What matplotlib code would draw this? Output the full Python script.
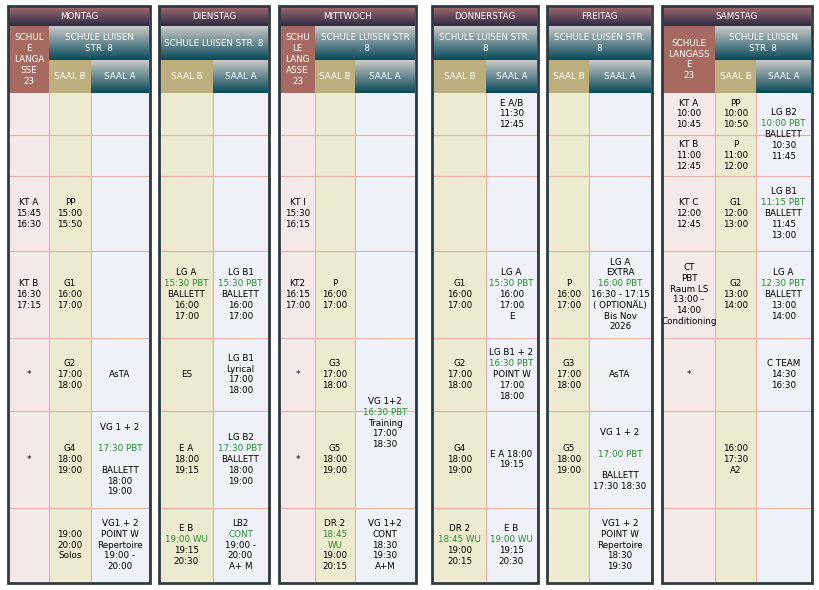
import numpy as np
import matplotlib.pyplot as plt
from matplotlib.patches import Rectangle

# ---- data ----
days = ["MONTAG", "DIENSTAG", "MITTWOCH", "DONNERSTAG", "FREITAG", "SAMSTAG"]
schools = ["SCHULE LUISEN\nSTR. 8", "SCHULE LUISEN STR. 8", "SCHULE LUISEN STR\n. 8",
           "SCHULE LUISEN STR.\n8", "SCHULE LUISEN STR.\n8", "SCHULE LUISEN\nSTR. 8"]
langasse = ["SCHUL\nE\nLANGA\nSSE\n23", None, "SCHU\nLE\nLANG\nASSE\n23", None, None,
            "SCHULE\nLANGASS\nE\n23"]
# column splits per day: x edges of (LS), B, A
col_edges = [[9, 49, 91, 149], [160, 213, 268], [280, 315, 355, 415],
             [433, 486, 537], [548, 589, 651], [663, 715, 756, 811]]
row_edges = [93, 135, 176, 251, 338, 411, 508, 582]

# cells: (day index, column key, first row, last row, text); "~" marks green line
cells = [
    (0, "L", 2, 2, "KT A\n15:45\n16:30"), (0, "B", 2, 2, "PP\n15:00\n15:50"),
    (0, "L", 3, 3, "KT B\n16:30\n17:15"), (0, "B", 3, 3, "G1\n16:00\n17:00"),
    (0, "L", 4, 4, "*"), (0, "B", 4, 4, "G2\n17:00\n18:00"), (0, "A", 4, 4, "AsTA"),
    (0, "L", 5, 5, "*"), (0, "B", 5, 5, "G4\n18:00\n19:00"),
    (0, "A", 5, 5, "VG 1 + 2\n\n~17:30 PBT\n\nBALLETT\n18:00\n19:00"),
    (0, "B", 6, 6, "19:00\n20:00\nSolos"),
    (0, "A", 6, 6, "VG1 + 2\nPOINT W\nRepertoire\n19:00 -\n20:00"),
    (1, "B", 3, 3, "LG A\n~15:30 PBT\nBALLETT\n16:00\n17:00"),
    (1, "A", 3, 3, "LG B1\n~15:30 PBT\nBALLETT\n16:00\n17:00"),
    (1, "B", 4, 4, "ES"), (1, "A", 4, 4, "LG B1\nLyrical\n17:00\n18:00"),
    (1, "B", 5, 5, "E A\n18:00\n19:15"),
    (1, "A", 5, 5, "LG B2\n~17:30 PBT\nBALLETT\n18:00\n19:00"),
    (1, "B", 6, 6, "E B\n~19:00 WU\n19:15\n20:30"),
    (1, "A", 6, 6, "LB2\n~CONT\n19:00 -\n20:00\nA+ M"),
    (2, "L", 2, 2, "KT I\n15:30\n16:15"),
    (2, "L", 3, 3, "KT2\n16:15\n17:00"), (2, "B", 3, 3, "P\n16:00\n17:00"),
    (2, "L", 4, 4, "*"), (2, "B", 4, 4, "G3\n17:00\n18:00"),
    (2, "A", 4, 5, "VG 1+2\n~16:30 PBT\nTraining\n17:00\n18:30"),
    (2, "L", 5, 5, "*"), (2, "B", 5, 5, "G5\n18:00\n19:00"),
    (2, "B", 6, 6, "DR 2\n~18:45\n~WU\n19:00\n20:15"),
    (2, "A", 6, 6, "VG 1+2\nCONT\n18:30\n19:30\nA+M"),
    (3, "A", 0, 0, "E A/B\n11:30\n12:45"),
    (3, "B", 3, 3, "G1\n16:00\n17:00"), (3, "A", 3, 3, "LG A\n~15:30 PBT\n16:00\n17:00\nE"),
    (3, "B", 4, 4, "G2\n17:00\n18:00"),
    (3, "A", 4, 4, "LG B1 + 2\n~16:30 PBT\nPOINT W\n17:00\n18:00"),
    (3, "B", 5, 5, "G4\n18:00\n19:00"), (3, "A", 5, 5, "E A 18:00\n19:15"),
    (3, "B", 6, 6, "DR 2\n~18:45 WU\n19:00\n20:15"),
    (3, "A", 6, 6, "E B\n~19:00 WU\n19:15\n20:30"),
    (4, "B", 3, 3, "P\n16:00\n17:00"),
    (4, "A", 3, 3, "LG A\nEXTRA\n~16:00 PBT\n16:30 - 17:15\n( OPTIONÄL)\nBis Nov\n2026"),
    (4, "B", 4, 4, "G3\n17:00\n18:00"), (4, "A", 4, 4, "AsTA"),
    (4, "B", 5, 5, "G5\n18:00\n19:00"),
    (4, "A", 5, 5, "VG 1 + 2\n\n~17:00 PBT\n\nBALLETT\n17:30 18:30"),
    (4, "A", 6, 6, "VG1 + 2\nPOINT W\nRepertoire\n18:30\n19:30"),
    (5, "L", 0, 0, "KT A\n10:00\n10:45"), (5, "B", 0, 0, "PP\n10:00\n10:50"),
    (5, "A", 0, 1, "LG B2\n~10:00 PBT\nBALLETT\n10:30\n11:45"),
    (5, "L", 1, 1, "KT B\n11:00\n12:45"), (5, "B", 1, 1, "P\n11:00\n12:00"),
    (5, "L", 2, 2, "KT C\n12:00\n12:45"), (5, "B", 2, 2, "G1\n12:00\n13:00"),
    (5, "A", 2, 2, "LG B1\n~11:15 PBT\nBALLETT\n11:45\n13:00"),
    (5, "L", 3, 3, "CT\nPBT\nRaum LS\n13:00 -\n14:00\nConditioning"),
    (5, "B", 3, 3, "G2\n13:00\n14:00"),
    (5, "A", 3, 3, "LG A\n~12:30 PBT\nBALLETT\n13:00\n14:00"),
    (5, "L", 4, 4, "*"), (5, "A", 4, 4, "C TEAM\n14:30\n16:30"),
    (5, "B", 5, 5, "16:00\n17:30\nA2"),
]

# ---- drawing ----
fig = plt.figure(figsize=(8.2, 5.9), dpi=100)
ax = fig.add_axes([0, 0, 1, 1])
ax.set_xlim(0, 820)
ax.set_ylim(590, 0)
ax.axis("off")

body = {"L": "#f3e9e8", "B": "#ecebd0", "A": "#eef1f8"}
grid = "#e6b0a6"
FS = 6.3


def grad(x0, x1, y0, y1, c_top, c_bot):
    t = np.linspace(0, 1, 40)[:, None]
    a = np.array(plt.matplotlib.colors.to_rgb(c_top))
    b = np.array(plt.matplotlib.colors.to_rgb(c_bot))
    img = (a * (1 - t) + b * t)[:, None, :]
    ax.imshow(img, extent=[x0, x1, y1, y0], aspect="auto", zorder=1)


def write(x, y, s, color="black", size=FS):
    lines = s.split("\n")
    n = len(lines)
    for i, ln in enumerate(lines):
        c = color
        if ln.startswith("~"):
            ln, c = ln[1:], "#2a8a2a"
        ax.text(x, y + (i - (n - 1) / 2) * 10.8, ln, ha="center", va="center",
                fontsize=size, color=c, zorder=5)


for d, day in enumerate(days):
    e = col_edges[d]
    keys = ["L", "B", "A"] if len(e) == 4 else ["B", "A"]
    x0, x1 = e[0], e[-1]
    # body colors
    for k, (a, b) in zip(keys, zip(e[:-1], e[1:])):
        ax.add_patch(Rectangle((a, 93), b - a, 582 - 93, fc=body[k], ec="none", zorder=0))
        ax.plot([b, b], [93, 582], color=grid, lw=0.8, zorder=2)
    for y in row_edges[1:-1]:
        ax.plot([x0, x1], [y, y], color=grid, lw=0.8, zorder=2)
    # headers
    grad(x0, x1, 7, 26, "#a0686e", "#2c2c44")
    write((x0 + x1) / 2, 16.5, day, color="white", size=6.3)
    sx = e[1] if keys[0] == "L" else x0
    grad(sx, x1, 26, 60, "#c9c9c9", "#094a5a")
    write((sx + x1) / 2, 43, schools[d], color="white", size=6.3)
    if keys[0] == "L":
        ax.add_patch(Rectangle((x0, 26), e[1] - x0, 67, fc="#a66a60", ec="none", zorder=1))
        write((x0 + e[1]) / 2, 59.5, langasse[d], color="white", size=6.3)
    bx0, bx1, ax0 = e[-3], e[-2], e[-2]
    ax.add_patch(Rectangle((bx0, 60), bx1 - bx0, 33, fc="#bcaf7d", ec="none", zorder=1))
    write((bx0 + bx1) / 2, 76.5, "SAAL B", color="white", size=6.3)
    grad(ax0, x1, 60, 93, "#c9c9c9", "#094a5a")
    write((ax0 + x1) / 2, 76.5, "SAAL A", color="white", size=6.3)
    # frame
    ax.add_patch(Rectangle((x0 - 1, 6), x1 - x0 + 2, 577, fc="none", ec="#2f3a40",
                           lw=2, zorder=6))

for d, k, r0, r1, txt in cells:
    e = col_edges[d]
    keys = ["L", "B", "A"] if len(e) == 4 else ["B", "A"]
    i = keys.index(k)
    xc = (e[i] + e[i + 1]) / 2
    yc = (row_edges[r0] + row_edges[r1 + 1]) / 2
    write(xc, yc, txt)

fig.savefig("out.png", dpi=100, facecolor="white")
